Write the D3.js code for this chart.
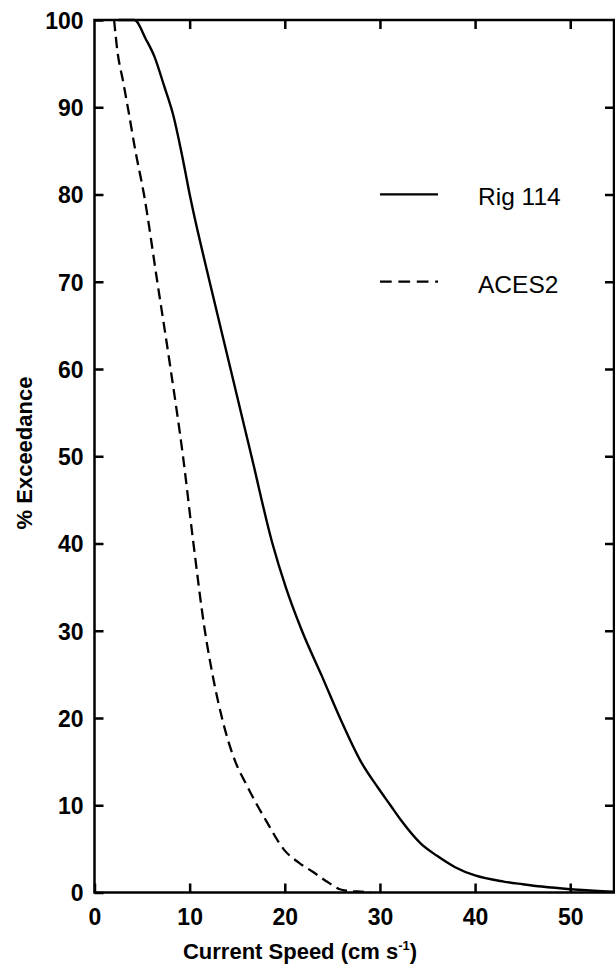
<!DOCTYPE html>
<html>
<head>
<meta charset="utf-8">
<script src="https://cdn.jsdelivr.net/npm/d3@7/dist/d3.min.js"></script>
<style>
  html, body { margin: 0; padding: 0; background: #fff; }
  svg { display: block; }
  text { font-family: "Liberation Sans", Arial, sans-serif; fill: #000; }
</style>
</head>
<body>
<script>
// ---- data ----
const rigSpeed = [2.5, 4.2, 5.4, 6.3, 7.3, 8.3, 9.2, 10.1, 12.1, 14.3, 16.5, 18.7, 20.1, 21.8, 23.9, 25.8, 28.0, 29.8, 31.1, 32.2, 34.3, 36.0, 37.9, 40.0, 43.0, 45.0, 47.0, 50.0, 52.5, 54.6];
const rigExceed = [100, 100, 97.8, 95.8, 92.5, 89, 84.5, 79.5, 70, 60, 50, 40, 35, 30, 24.8, 20, 15, 12, 10, 8.3, 5.6, 4.2, 2.9, 1.95, 1.25, 0.95, 0.68, 0.38, 0.2, 0.1];
const acesSpeed = [2.06, 2.4, 3.0, 3.5, 4.3, 5.2, 6.6, 8.0, 9.3, 10.4, 11.6, 12.4, 13.4, 14.8, 15.9, 17.0, 18.0, 20.0, 21.5, 22.9, 24.5, 25.7, 26.5, 28.0, 29.0];
const acesExceed = [100, 96.5, 93, 90, 85, 80, 70, 60, 50, 40, 30, 25, 20, 15, 12.5, 10.2, 8.3, 4.8, 3.4, 2.4, 1.2, 0.4, 0.2, 0.1, 0.05];
const seriesNames = ["Rig 114", "ACES2"];
const xTicks = [0, 10, 20, 30, 40, 50];
const yTicks = [0, 10, 20, 30, 40, 50, 60, 70, 80, 90, 100];
const xTitle = "Current Speed (cm s";
const xTitleSup = "-1";
const yTitle = "% Exceedance";

// ---- layout ----
const W = 615, H = 966;
const pL = 94.5, pR = 614, pT = 20, pB = 892.5;

const svg = d3.select("body").append("svg").attr("width", W).attr("height", H);

const x = d3.scaleLinear().domain([0, 54.6]).range([pL, pR]);
const y = d3.scaleLinear().domain([0, 100]).range([pB, pT]);

const sw = 2.5;

function styleAxis(g, hideLabels) {
  g.select(".domain").remove();
  g.selectAll(".tick line").attr("stroke", "#000").attr("stroke-width", sw);
  g.selectAll(".tick text")
    .attr("fill", "#000")
    .style("font-size", "23px").style("font-weight", "bold")
    .style("font-family", "'Liberation Sans', Arial, sans-serif");
  if (hideLabels) g.selectAll(".tick text").remove();
}

// bottom
svg.append("g").attr("transform", `translate(0,${pB})`)
  .call(d3.axisBottom(x).tickValues(xTicks).tickSizeInner(-9).tickSizeOuter(0).tickPadding(0).tickFormat(d3.format("d")))
  .call(g => styleAxis(g, false))
  .call(g => g.selectAll(".tick text").attr("y", 32.5).attr("dy", null));
// top
svg.append("g").attr("transform", `translate(0,${pT})`)
  .call(d3.axisTop(x).tickValues(xTicks.filter(d => d > 0)).tickSizeInner(-9).tickSizeOuter(0))
  .call(g => styleAxis(g, true));
// left
svg.append("g").attr("transform", `translate(${pL},0)`)
  .call(d3.axisLeft(y).tickValues(yTicks).tickSizeInner(-9).tickSizeOuter(0).tickPadding(11).tickFormat(d3.format("d")))
  .call(g => styleAxis(g, false))
  .call(g => g.selectAll(".tick text").attr("dy", "0.36em"));
// right
svg.append("g").attr("transform", `translate(${pR},0)`)
  .call(d3.axisRight(y).tickValues(yTicks.filter(d => d > 0 && d < 100)).tickSizeInner(-9).tickSizeOuter(0))
  .call(g => styleAxis(g, true));

// frame
svg.append("rect")
  .attr("x", pL).attr("y", pT)
  .attr("width", pR - pL).attr("height", pB - pT)
  .attr("fill", "none").attr("stroke", "#000").attr("stroke-width", sw);

// lines
const line = d3.line().x(d => x(d[0])).y(d => y(d[1])).curve(d3.curveMonotoneX);
const rigData = rigSpeed.map((v, i) => [v, rigExceed[i]]);
const acesData = acesSpeed.map((v, i) => [v, acesExceed[i]]);

svg.append("path").datum(rigData).attr("d", line)
  .attr("fill", "none").attr("stroke", "#000").attr("stroke-width", 2.4).attr("stroke-linejoin", "round");
svg.append("path").datum(acesData).attr("d", line)
  .attr("fill", "none").attr("stroke", "#000").attr("stroke-width", 2.3)
  .attr("stroke-dasharray", "11,6");

// legend
const legend = [
  { name: seriesNames[0], dash: null, ly: 194.3 },
  { name: seriesNames[1], dash: "11.7,6.7", ly: 281.7 }
];
legend.forEach(d => {
  svg.append("line").attr("x1", 380).attr("x2", 438).attr("y1", d.ly).attr("y2", d.ly)
    .attr("stroke", "#000").attr("stroke-width", 2.3)
    .attr("stroke-dasharray", d.dash);
  svg.append("text").attr("x", 478).attr("y", d.ly + 11)
    .style("font-size", "24.5px").text(d.name);
});

// axis titles
const xt = svg.append("text").attr("x", 300).attr("y", 959)
  .attr("text-anchor", "middle").style("font-size", "22px").style("font-weight", "bold");
xt.append("tspan").text(xTitle);
xt.append("tspan").attr("dy", -9).style("font-size", "13px").text(xTitleSup);
xt.append("tspan").attr("dy", 9).text(")");

svg.append("text")
  .attr("transform", "translate(32,453) rotate(-90)")
  .attr("text-anchor", "middle").style("font-size", "22px").style("font-weight", "bold")
  .text(yTitle);
</script>
</body>
</html>
